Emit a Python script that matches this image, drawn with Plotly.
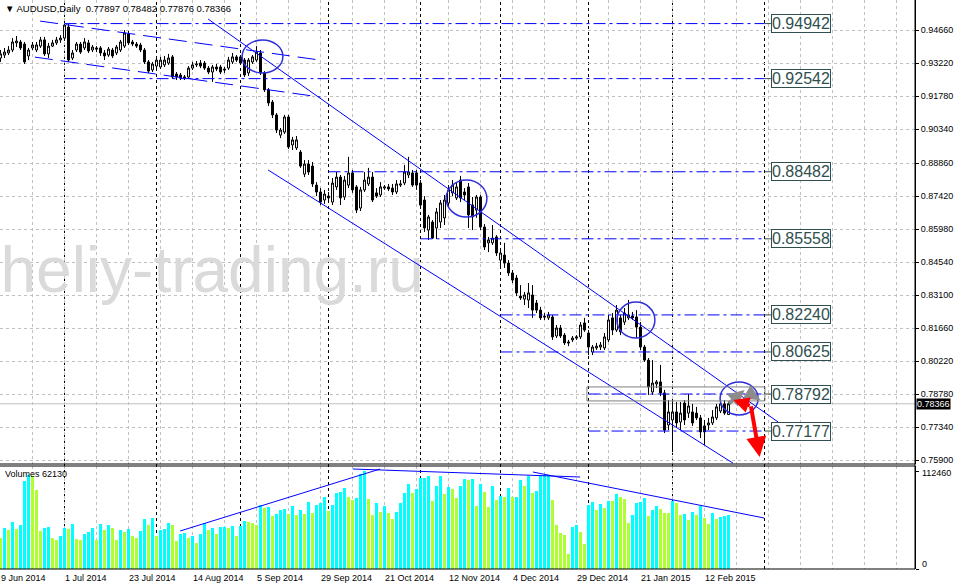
import plotly.graph_objects as go

# ---------------- data (AUDUSD daily) ----------------
open_ = [0.9344,0.9357,0.9366,0.9379,0.9410,0.9414,0.9405,0.9353,0.9388,0.9379,
 0.9396,0.9423,0.9362,0.9396,0.9410,0.9423,0.9431,0.9479,0.9344,0.9379,
 0.9405,0.9388,0.9410,0.9379,0.9388,0.9388,0.9366,0.9357,0.9379,0.9366,
 0.9379,0.9396,0.9449,0.9414,0.9405,0.9401,0.9379,0.9327,0.9292,0.9309,
 0.9305,0.9314,0.9322,0.9349,0.9274,0.9270,0.9257,0.9261,0.9300,0.9314,
 0.9322,0.9322,0.9300,0.9283,0.9305,0.9305,0.9296,0.9300,0.9327,0.9349,
 0.9349,0.9335,0.9279,0.9327,0.9335,0.9366,0.9279,0.9205,0.9152,0.9096,
 0.9008,0.9021,0.9087,0.8965,0.8952,0.8934,0.8838,0.8882,0.8873,0.8790,
 0.8760,0.8725,0.8742,0.8716,0.8782,0.8825,0.8738,0.8790,0.8843,0.8782,
 0.8690,0.8769,0.8795,0.8825,0.8756,0.8747,0.8777,0.8782,0.8777,0.8760,
 0.8790,0.8799,0.8834,0.8843,0.8843,0.8799,0.8725,0.8594,0.8629,0.8603,
 0.8629,0.8647,0.8712,0.8756,0.8734,0.8812,0.8760,0.8782,0.8703,0.8681,
 0.8738,0.8607,0.8538,0.8538,0.8564,0.8463,0.8485,0.8450,0.8407,0.8385,
 0.8306,0.8293,0.8289,0.8311,0.8276,0.8245,0.8219,0.8211,0.8215,0.8132,
 0.8167,0.8136,0.8106,0.8115,0.8123,0.8128,0.8189,0.8145,0.8062,0.8080,
 0.8084,0.8080,0.8115,0.8211,0.8158,0.8211,0.8193,0.8211,0.8219,0.8215,
 0.8171,0.8084,0.8027,0.7888,0.7923,0.7932,0.7884,0.7744,0.7766,0.7801,
 0.7757,0.7840,0.7796,0.7801,0.7796,0.7775,0.7740,0.7744,0.7753,0.7775,
 0.7805,0.7836,0.77897]
high = [0.9379,0.9388,0.9396,0.9431,0.9440,0.9423,0.9414,0.9388,0.9414,0.9414,
 0.9436,0.9436,0.9410,0.9423,0.9436,0.9444,0.9494,0.9492,0.9379,0.9414,
 0.9414,0.9431,0.9423,0.9401,0.9396,0.9396,0.9379,0.9392,0.9388,0.9401,
 0.9423,0.9466,0.9462,0.9423,0.9414,0.9410,0.9388,0.9335,0.9327,0.9344,
 0.9349,0.9353,0.9362,0.9357,0.9283,0.9279,0.9270,0.9309,0.9327,0.9331,
 0.9335,0.9331,0.9309,0.9314,0.9318,0.9314,0.9305,0.9349,0.9366,0.9357,
 0.9357,0.9344,0.9344,0.9357,0.9396,0.9379,0.9287,0.9213,0.9161,0.9104,
 0.9039,0.9096,0.9096,0.9000,0.9004,0.8943,0.8899,0.8899,0.8891,0.8803,
 0.8777,0.8769,0.8760,0.8821,0.8847,0.8834,0.8830,0.8913,0.8856,0.8790,
 0.8782,0.8847,0.8865,0.8847,0.8777,0.8803,0.8790,0.8795,0.8795,0.8812,
 0.8812,0.8878,0.8913,0.8856,0.8856,0.8812,0.8742,0.8660,0.8638,0.8690,
 0.8725,0.8747,0.8790,0.8812,0.8799,0.8830,0.8777,0.8799,0.8738,0.8747,
 0.8747,0.8620,0.8564,0.8616,0.8572,0.8516,0.8538,0.8463,0.8420,0.8398,
 0.8354,0.8324,0.8363,0.8354,0.8289,0.8259,0.8232,0.8237,0.8224,0.8180,
 0.8180,0.8145,0.8115,0.8132,0.8136,0.8193,0.8211,0.8158,0.8093,0.8102,
 0.8106,0.8145,0.8224,0.8232,0.8267,0.8224,0.8254,0.8289,0.8237,0.8245,
 0.8193,0.8093,0.8036,0.8027,0.7940,0.8006,0.7897,0.7853,0.7853,0.7844,
 0.7844,0.7853,0.7879,0.7836,0.7823,0.7788,0.7766,0.7775,0.7809,0.7836,
 0.7853,0.7853,0.78482]
low = [0.9327,0.9344,0.9357,0.9370,0.9392,0.9379,0.9318,0.9335,0.9379,0.9370,
 0.9388,0.9353,0.9344,0.9392,0.9401,0.9410,0.9423,0.9327,0.9335,0.9370,
 0.9362,0.9379,0.9366,0.9370,0.9370,0.9353,0.9335,0.9349,0.9344,0.9357,
 0.9370,0.9388,0.9401,0.9396,0.9388,0.9370,0.9318,0.9279,0.9283,0.9300,
 0.9296,0.9305,0.9314,0.9253,0.9248,0.9248,0.9248,0.9253,0.9292,0.9305,
 0.9300,0.9292,0.9274,0.9240,0.9287,0.9274,0.9279,0.9292,0.9318,0.9327,
 0.9314,0.9261,0.9266,0.9318,0.9327,0.9270,0.9196,0.9135,0.9082,0.9017,
 0.8995,0.9013,0.8947,0.8943,0.8943,0.8865,0.8825,0.8834,0.8782,0.8742,
 0.8703,0.8708,0.8725,0.8703,0.8769,0.8703,0.8725,0.8777,0.8756,0.8668,
 0.8677,0.8760,0.8786,0.8716,0.8734,0.8738,0.8769,0.8764,0.8747,0.8751,
 0.8782,0.8790,0.8821,0.8782,0.8769,0.8690,0.8586,0.8551,0.8555,0.8555,
 0.8603,0.8616,0.8694,0.8742,0.8725,0.8716,0.8725,0.8603,0.8594,0.8647,
 0.8594,0.8507,0.8498,0.8529,0.8481,0.8429,0.8429,0.8394,0.8363,0.8306,
 0.8289,0.8267,0.8254,0.8211,0.8232,0.8202,0.8202,0.8202,0.8115,0.8123,
 0.8123,0.8093,0.8088,0.8106,0.8115,0.8119,0.8150,0.8049,0.8049,0.8071,
 0.8071,0.8071,0.8106,0.8136,0.8150,0.8136,0.8180,0.8202,0.8202,0.8123,
 0.8071,0.8019,0.7875,0.7875,0.7905,0.7870,0.7709,0.7722,0.7626,0.7731,
 0.7722,0.7744,0.7775,0.7740,0.7766,0.7687,0.7657,0.7722,0.7744,0.7766,
 0.7796,0.7788,0.77876]
close = [0.9362,0.9370,0.9379,0.9414,0.9418,0.9388,0.9327,0.9379,0.9401,0.9401,
 0.9423,0.9362,0.9396,0.9410,0.9423,0.9431,0.9488,0.9335,0.9366,0.9405,
 0.9370,0.9414,0.9375,0.9392,0.9383,0.9366,0.9353,0.9383,0.9353,0.9392,
 0.9414,0.9453,0.9410,0.9405,0.9396,0.9379,0.9327,0.9287,0.9318,0.9335,
 0.9335,0.9335,0.9344,0.9261,0.9261,0.9257,0.9261,0.9300,0.9314,0.9318,
 0.9309,0.9300,0.9283,0.9305,0.9296,0.9283,0.9292,0.9335,0.9349,0.9335,
 0.9322,0.9270,0.9335,0.9349,0.9370,0.9279,0.9205,0.9148,0.9096,0.9030,
 0.9030,0.9087,0.8956,0.8987,0.8987,0.8873,0.8882,0.8847,0.8795,0.8760,
 0.8716,0.8751,0.8734,0.8799,0.8825,0.8734,0.8812,0.8843,0.8769,0.8681,
 0.8769,0.8812,0.8825,0.8725,0.8742,0.8782,0.8782,0.8773,0.8760,0.8795,
 0.8795,0.8847,0.8847,0.8790,0.8790,0.8703,0.8603,0.8651,0.8559,0.8673,
 0.8712,0.8725,0.8769,0.8790,0.8782,0.8734,0.8747,0.8660,0.8651,0.8738,
 0.8607,0.8520,0.8551,0.8559,0.8494,0.8494,0.8450,0.8407,0.8376,0.8320,
 0.8298,0.8311,0.8320,0.8245,0.8245,0.8211,0.8215,0.8224,0.8128,0.8167,
 0.8132,0.8102,0.8102,0.8123,0.8128,0.8180,0.8158,0.8084,0.8084,0.8088,
 0.8093,0.8128,0.8202,0.8158,0.8245,0.8150,0.8232,0.8224,0.8211,0.8171,
 0.8084,0.8027,0.7910,0.7927,0.7932,0.7884,0.7722,0.7801,0.7801,0.7753,
 0.7796,0.7766,0.7827,0.7753,0.7775,0.7714,0.7714,0.7753,0.7779,0.7823,
 0.7836,0.7796,0.78366]
volume = [35960,46680,44770,53950,45910,50510,101410,107910,106760,90690,
 43620,46680,48210,35580,33280,37880,47060,45910,51650,34050,
 33280,40170,42470,47060,33280,51650,44770,50510,47060,33280,
 44770,42470,45910,37880,35580,43620,57390,50510,58540,37880,
 44770,45910,52800,50510,32140,40170,41320,35580,37880,29840,
 40170,52800,44770,47060,40170,48210,48590,47060,49360,37880,
 49360,55100,53950,52800,50510,73470,70020,71550,60840,63140,
 67730,68490,63140,72320,61990,67730,63140,76910,63900,73470,
 75380,82650,66580,73470,86860,88010,92600,82650,79210,81120,
 109060,112460,79970,61990,75380,65430,72320,64280,57390,65430,
 76150,86860,97580,86860,91840,104470,104850,106760,78060,95280,
 106760,86100,93750,91840,81500,95280,103320,102170,103320,72320,
 97580,88780,71550,95280,79210,83800,82270,92990,82270,83040,
 102170,95280,107150,86860,89540,107150,107530,107900,79210,50510,
 41700,39020,17210,48590,50510,42850,28690,73470,76910,67730,
 74620,70020,78440,77680,86100,83040,79970,53180,61990,76150,
 76910,81120,60840,67730,72320,68490,64670,63900,78440,75380,
 61990,63140,56250,65050,61990,72320,58160,51650,63900,57390,
 59500,61000,62130]

date_tick_bars = [0, 16, 32, 48, 64, 80, 96, 112, 128, 144, 160, 176]
date_tick_text = ["9 Jun 2014", "1 Jul 2014", "23 Jul 2014", "14 Aug 2014", "5 Sep 2014",
                  "29 Sep 2014", "21 Oct 2014", "12 Nov 2014", "4 Dec 2014", "29 Dec 2014",
                  "21 Jan 2015", "12 Feb 2015"]
month_sep_bars = [16, 39, 60, 82, 105, 125, 147, 168, 191]
price_ticks = [0.94660, 0.93220, 0.91780, 0.90340, 0.88860, 0.87420, 0.85980,
               0.84540, 0.83100, 0.81660, 0.80220, 0.78780, 0.77340, 0.75900]
volume_ticks = [0, 112460]

# horizontal levels: price, start bar
level_prices = [0.94942, 0.92542, 0.88482, 0.85558, 0.82240, 0.80625, 0.78792, 0.77177]
level_start = [16, 16, 82, 105, 125, 125, 147, 147]
level_end_bar = 191
label_box_bar = 192.6

# trend lines (bar, price) pairs
channel_upper = [(51.9, 0.9514), (194.4, 0.7757)]
channel_lower = [(66.9, 0.8856), (183.1, 0.7578)]
flag_upper = [(9.9, 0.9505), (79.9, 0.9335)]
flag_lower = [(8.6, 0.9348), (79.9, 0.9174)]
vol_lines = [[(44.9, 43620), (94.9, 114800)],
             [(88.1, 114800), (144.9, 105620)],
             [(133.1, 111360), (190.9, 58550)]]
# ellipses (bar0, bar1, price_low, price_high)
circles = [(60.4, 70.6, 0.9279, 0.9423), (111.4, 121.6, 0.8651, 0.8812),
           (154.1, 163.6, 0.8123, 0.8280), (179.9, 189.4, 0.7788, 0.7932)]
zone = (146.6, 191.1, 0.7849, 0.7910)
last_price = close[-1]

bars = list(range(len(close)))
vol_colors = ["#ADFF2F"] + ["#00FFFF" if volume[i] > volume[i - 1] else "#ADFF2F"
                            for i in range(1, len(volume))]

FONT = "Liberation Sans, Arial, sans-serif"
BLUE = "#0000FF"

fig = go.Figure()

# watermark (behind candles)
fig.add_trace(go.Scatter(x=[52.9], y=[0.8394], mode="text", text=["heliy-trading.ru"],
                         textfont=dict(family=FONT, size=64, color="#DADADA"),
                         hoverinfo="skip", showlegend=False, yaxis="y"))

fig.add_trace(go.Candlestick(
    x=bars, open=open_, high=high, low=low, close=close,
    increasing=dict(line=dict(color="black", width=1), fillcolor="white"),
    decreasing=dict(line=dict(color="black", width=1), fillcolor="black"),
    whiskerwidth=0, showlegend=False, yaxis="y"))

fig.add_trace(go.Bar(x=bars, y=volume, marker=dict(color=vol_colors, line=dict(width=0)),
                     width=0.8, showlegend=False, yaxis="y2"))

shapes = []
# month separators
for b in month_sep_bars:
    shapes.append(dict(type="line", xref="x", yref="paper", x0=b, x1=b, y0=0, y1=1,
                       line=dict(color="black", width=1, dash="3px,3px"), layer="between"))
# current price line
shapes.append(dict(type="line", xref="paper", yref="y", x0=0, x1=1, y0=last_price, y1=last_price,
                   line=dict(color="#C0C0C0", width=1), layer="between"))
# level lines
for p, s in zip(level_prices, level_start):
    shapes.append(dict(type="line", xref="x", yref="y", x0=s, x1=level_end_bar, y0=p, y1=p,
                       line=dict(color=BLUE, width=1, dash="12px,4px,3px,4px")))
    shapes.append(dict(type="line", xref="x", yref="y", x0=level_end_bar, x1=label_box_bar, y0=p, y1=p,
                       line=dict(color="#2F4F4F", width=1)))
# trend lines
for ln, dash in [(channel_upper, "solid"), (channel_lower, "solid"),
                 (flag_upper, "18px,8px"), (flag_lower, "18px,8px")]:
    (xa, ya), (xb, yb) = ln
    shapes.append(dict(type="line", xref="x", yref="y", x0=xa, y0=ya, x1=xb, y1=yb,
                       line=dict(color=BLUE, width=1, dash=dash)))
for ln in vol_lines:
    (xa, ya), (xb, yb) = ln
    shapes.append(dict(type="line", xref="x", yref="y2", x0=xa, y0=ya, x1=xb, y1=yb,
                       line=dict(color=BLUE, width=1)))
# circles
for x0, x1, y0, y1 in circles:
    shapes.append(dict(type="circle", xref="x", yref="y", x0=x0, x1=x1, y0=y0, y1=y1,
                       line=dict(color="#2E2EDB", width=1.5)))
# zone rectangle
shapes.append(dict(type="rect", xref="x", yref="y", x0=zone[0], x1=zone[1], y0=zone[2], y1=zone[3],
                   line=dict(color="#808080", width=1)))
# panel borders
for yy in [105 / 569, 103 / 569, 0]:
    shapes.append(dict(type="line", xref="paper", yref="paper", x0=0, x1=1, y0=yy, y1=yy,
                       line=dict(color="black", width=1)))
shapes.append(dict(type="line", xref="paper", yref="paper", x0=1, x1=1, y0=0, y1=1,
                   line=dict(color="black", width=1)))

annotations = []
for b, t in zip(date_tick_bars, date_tick_text):
    annotations.append(dict(x=b, y=0, xref="x", yref="paper", text=t, showarrow=False,
                            xanchor="left", yanchor="top", xshift=-2, yshift=-2,
                            font=dict(family=FONT, size=9, color="black")))
for p in level_prices:
    annotations.append(dict(x=label_box_bar, y=p, xref="x", yref="y", text=f"{p:.5f}",
                            showarrow=False, xanchor="left", yanchor="middle",
                            font=dict(family=FONT, size=16, color="#2F4F4F"),
                            bordercolor="#2F4F4F", borderwidth=1, borderpad=0, bgcolor="white"))
annotations.append(dict(x=0, y=1, xref="paper", yref="paper",
                        text="▼ AUDUSD,Daily  0.77897 0.78482 0.77876 0.78366",
                        showarrow=False, xanchor="left", yanchor="top", xshift=3, yshift=-1,
                        font=dict(family=FONT, size=9.5, color="black")))
annotations.append(dict(x=0, y=95 / 569, xref="paper", yref="paper", text="Volumes 62130",
                        showarrow=False, xanchor="left", yanchor="middle", xshift=3,
                        font=dict(family=FONT, size=9, color="black")))
annotations.append(dict(x=1, y=last_price, xref="paper", yref="y", text=f"{last_price:.5f}",
                        showarrow=False, xanchor="left", yanchor="middle", xshift=1,
                        font=dict(family=FONT, size=9, color="white"), bgcolor="black", borderpad=0))
annotations.append(dict(x=1, y=volume_ticks[1], xref="paper", yref="y2", text=str(volume_ticks[1]),
                        showarrow=False, xanchor="left", yanchor="middle", xshift=5, yshift=-2,
                        font=dict(family=FONT, size=9, color="black")))
annotations.append(dict(x=1, y=volume_ticks[0], xref="paper", yref="y2", text=str(volume_ticks[0]),
                        showarrow=False, xanchor="left", yanchor="middle", xshift=5, yshift=5,
                        font=dict(family=FONT, size=9, color="black")))
# arrows
annotations.append(dict(x=186.0, y=0.7897, xref="x", yref="y", ax=-17, ay=15, showarrow=True,
                        arrowcolor="#8C8C8C", arrowwidth=4, arrowhead=2, arrowsize=0.8, text=""))
annotations.append(dict(x=190.0, y=0.7853, xref="x", yref="y", ax=-14, ay=-8, showarrow=True,
                        arrowcolor="#8C8C8C", arrowwidth=4, arrowhead=2, arrowsize=0.8, text=""))
annotations.append(dict(x=183.2, y=0.7853, xref="x", yref="y", ax=18, ay=6, showarrow=True,
                        arrowcolor="#FF0000", arrowwidth=3.5, arrowhead=2, arrowsize=0.9, text=""))
annotations.append(dict(x=189.8, y=0.7605, xref="x", yref="y", ax=-9, ay=-52, showarrow=True,
                        arrowcolor="#FF0000", arrowwidth=4, arrowhead=2, arrowsize=1.0, text=""))

fig.update_layout(
    width=956, height=586, margin=dict(l=0, r=41, t=0, b=17),
    paper_bgcolor="white", plot_bgcolor="white", showlegend=False,
    font=dict(family=FONT, size=9, color="black"),
    shapes=shapes, annotations=annotations, bargap=0,
    xaxis=dict(range=[-0.125, 228.625], tickvals=list(range(8, 229, 8)), showticklabels=False,
               ticks="", showgrid=True, gridcolor="#C0C0C0", griddash="3px,3px", gridwidth=1,
               zeroline=False, showline=False, rangeslider=dict(visible=False), anchor="y2"),
    yaxis=dict(domain=[105 / 569, 1], range=[0.7574, 0.9597], side="right", anchor="x",
               tickvals=price_ticks, ticktext=[f"{v:.5f}" for v in price_ticks],
               showgrid=True, gridcolor="#C0C0C0", griddash="3px,3px", gridwidth=1,
               zeroline=False, showline=True, linecolor="black", linewidth=1,
               ticks="outside", ticklen=3, tickcolor="black",
               tickfont=dict(family=FONT, size=9, color="black")),
    yaxis2=dict(domain=[0, 103 / 569], range=[0, 118244], side="right", anchor="x",
                tickvals=volume_ticks, showticklabels=False, showgrid=False, zeroline=False,
                showline=True, linecolor="black", linewidth=1, ticks="outside", ticklen=3,
                tickcolor="black"),
)

fig.write_html("out.html", config={"displayModeBar": False},
               post_script="document.body.style.margin='0';document.body.style.overflow='hidden';")
